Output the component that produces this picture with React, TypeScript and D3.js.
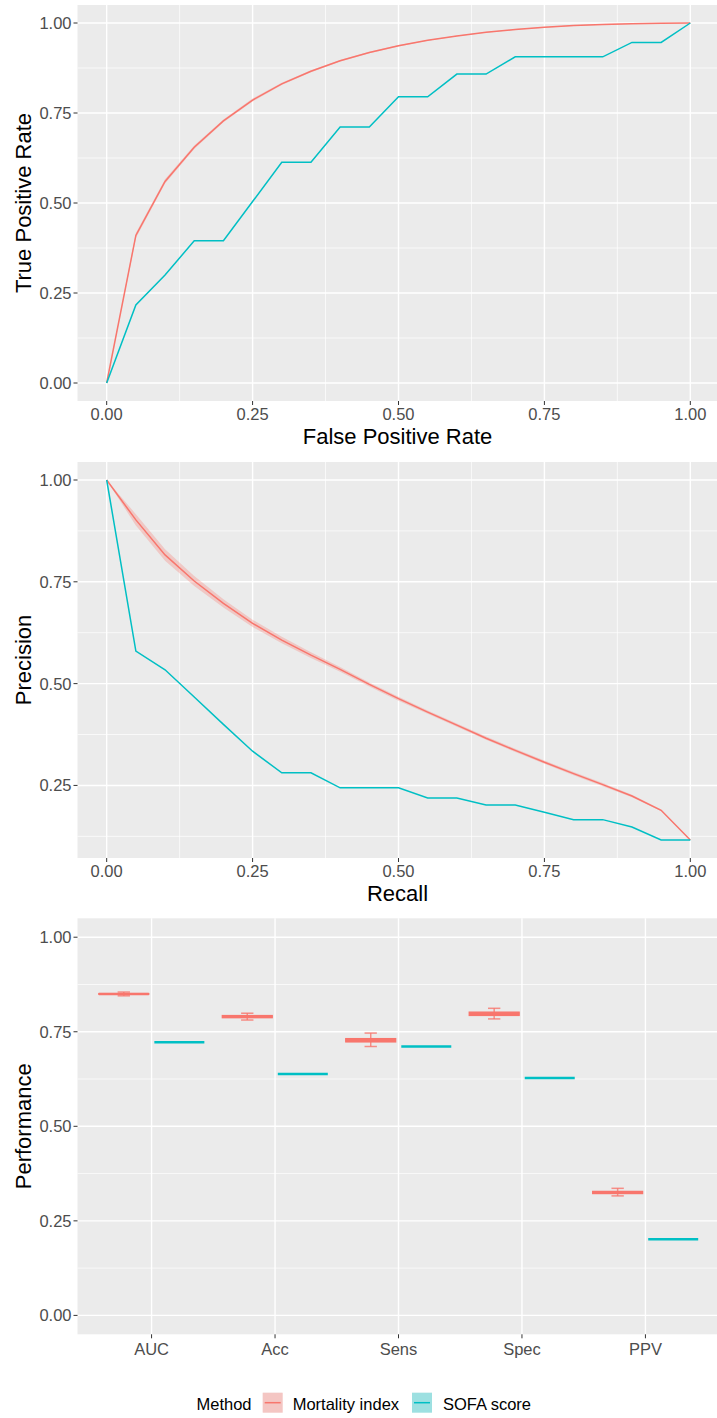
import React from 'react';
import * as d3 from 'd3';

// ---------- DATA ----------
const rocFpr = [0, 0.05, 0.1, 0.15, 0.2, 0.25, 0.3, 0.35, 0.4, 0.45, 0.5, 0.55, 0.6, 0.65, 0.7, 0.75, 0.8, 0.85, 0.9, 0.95, 1];
const rocMortality = [0, 0.41, 0.56, 0.655, 0.728, 0.786, 0.831, 0.866, 0.895, 0.918, 0.937, 0.952, 0.964, 0.974, 0.982, 0.988, 0.993, 0.996, 0.998, 0.999, 1];
const rocMortalityLow = [0, 0.403, 0.554, 0.650, 0.724, 0.782, 0.828, 0.863, 0.893, 0.916, 0.935, 0.951, 0.963, 0.973, 0.981, 0.987, 0.992, 0.995, 0.997, 0.999, 1];
const rocMortalityHigh = [0, 0.417, 0.566, 0.660, 0.732, 0.790, 0.834, 0.869, 0.897, 0.920, 0.939, 0.953, 0.965, 0.975, 0.983, 0.989, 0.994, 0.997, 0.999, 1, 1];
const rocSofa = [0, 0.217, 0.3, 0.395, 0.395, 0.504, 0.613, 0.613, 0.711, 0.711, 0.795, 0.795, 0.858, 0.858, 0.906, 0.906, 0.906, 0.906, 0.946, 0.946, 1];

const prRecall = [0, 0.05, 0.1, 0.15, 0.2, 0.25, 0.3, 0.35, 0.4, 0.45, 0.5, 0.55, 0.6, 0.65, 0.7, 0.75, 0.8, 0.85, 0.9, 0.95, 1];
const prMortality = [1, 0.902, 0.816, 0.752, 0.697, 0.648, 0.607, 0.570, 0.535, 0.498, 0.463, 0.430, 0.398, 0.366, 0.336, 0.307, 0.279, 0.252, 0.224, 0.189, 0.116];
const prMortalityLow = [1, 0.888, 0.802, 0.740, 0.687, 0.639, 0.599, 0.563, 0.529, 0.493, 0.458, 0.426, 0.394, 0.362, 0.332, 0.303, 0.275, 0.248, 0.221, 0.187, 0.116];
const prMortalityHigh = [1, 0.916, 0.830, 0.764, 0.707, 0.657, 0.615, 0.577, 0.541, 0.503, 0.468, 0.434, 0.402, 0.370, 0.340, 0.311, 0.283, 0.256, 0.227, 0.191, 0.116];
const prSofa = [1, 0.58, 0.534, 0.467, 0.4, 0.334, 0.281, 0.281, 0.244, 0.244, 0.244, 0.219, 0.219, 0.202, 0.202, 0.184, 0.166, 0.166, 0.148, 0.116, 0.116];

const metrics = ['AUC', 'Acc', 'Sens', 'Spec', 'PPV'];
const mortalityLow = [0.845, 0.781, 0.711, 0.784, 0.316];
const mortalityQ1 = [0.849, 0.787, 0.723, 0.793, 0.322];
const mortalityMedian = [0.850, 0.790, 0.728, 0.798, 0.325];
const mortalityQ3 = [0.851, 0.793, 0.732, 0.802, 0.328];
const mortalityHigh = [0.855, 0.799, 0.7465, 0.812, 0.336];
const sofaValues = [0.7225, 0.638, 0.711, 0.6275, 0.2016];

const unitTicks = [0, 0.25, 0.5, 0.75, 1];
const unitTickLabels = ['0.00', '0.25', '0.50', '0.75', '1.00'];
const minorTicks = [0.125, 0.375, 0.625, 0.875];

const methods = ['Mortality index', 'SOFA score'];
const colors = ['#F8766D', '#00BFC4'];

// ---------- LAYOUT ----------
const W = 717;
const H = 1418;
const PL = 77.5;
const PR = 719.5;
const P1 = { top: 5, bottom: 401 };
const P2 = { top: 462, bottom: 858 };
const P3 = { top: 918.3, bottom: 1334.3 };
const FONT = "'Liberation Sans', Arial, Helvetica, sans-serif";
const TICK_FS = 16.5;
const TITLE_FS = 22;

const xUnit = d3.scaleLinear().domain([-0.05, 1.05]).range([PL, PR]);
const y1 = d3.scaleLinear().domain([-0.05, 1.05]).range([P1.bottom, P1.top]);
const prMin = d3.min(prMortalityLow.concat(prSofa)) as number;
const prSpan = 1 - prMin;
const y2 = d3.scaleLinear().domain([prMin - 0.05 * prSpan, 1 + 0.05 * prSpan]).range([P2.bottom, P2.top]);
const y3 = d3.scaleLinear().domain([-0.05, 1.05]).range([P3.bottom, P3.top]);
const x3 = d3.scalePoint<string>().domain(metrics).range([PL, PR]).padding(0.6);
const step3 = x3.step();

function Panel({ top, bottom, yScale, xGrid, xMinor }: any) {
  const yMaj = unitTicks.filter((v) => yScale(v) >= top - 0.5 && yScale(v) <= bottom + 0.5);
  const yMin = minorTicks.filter((v) => yScale(v) >= top && yScale(v) <= bottom);
  return (
    <g>
      <rect x={PL} y={top} width={PR - PL} height={bottom - top} fill="#EBEBEB" />
      {yMin.map((v) => (
        <line key={'ym' + v} x1={PL} x2={PR} y1={yScale(v)} y2={yScale(v)} stroke="#fff" strokeWidth={0.7} />
      ))}
      {xMinor.map((v: number) => (
        <line key={'xm' + v} x1={xUnit(v)} x2={xUnit(v)} y1={top} y2={bottom} stroke="#fff" strokeWidth={0.7} />
      ))}
      {yMaj.map((v) => (
        <line key={'yM' + v} x1={PL} x2={PR} y1={yScale(v)} y2={yScale(v)} stroke="#fff" strokeWidth={1.4} />
      ))}
      {xGrid.map((px: number, i: number) => (
        <line key={'xM' + i} x1={px} x2={px} y1={top} y2={bottom} stroke="#fff" strokeWidth={1.4} />
      ))}
      {yMaj.map((v) => (
        <g key={'yt' + v}>
          <line x1={PL - 4} x2={PL} y1={yScale(v)} y2={yScale(v)} stroke="#333" strokeWidth={1} />
          <text x={PL - 6} y={yScale(v)} dy="0.36em" textAnchor="end" fontSize={TICK_FS} fill="#4D4D4D" fontFamily={FONT}>
            {unitTickLabels[unitTicks.indexOf(v)]}
          </text>
        </g>
      ))}
    </g>
  );
}

function XAxisUnit({ bottom, title }: any) {
  return (
    <g>
      {unitTicks.map((v, i) => (
        <g key={v}>
          <line x1={xUnit(v)} x2={xUnit(v)} y1={bottom} y2={bottom + 4} stroke="#333" strokeWidth={1} />
          <text x={xUnit(v)} y={bottom + 19} textAnchor="middle" fontSize={TICK_FS} fill="#4D4D4D" fontFamily={FONT}>
            {unitTickLabels[i]}
          </text>
        </g>
      ))}
      <text x={(PL + PR) / 2 - 1} y={bottom + 43} textAnchor="middle" fontSize={TITLE_FS} fill="#000" fontFamily={FONT}>
        {title}
      </text>
    </g>
  );
}

function YTitle({ top, bottom, title }: any) {
  const cy = (top + bottom) / 2;
  return (
    <text transform={`translate(31,${cy}) rotate(-90)`} textAnchor="middle" fontSize={TITLE_FS} fill="#000" fontFamily={FONT}>
      {title}
    </text>
  );
}

export default function App() {
  const rocLine = (ys: number[]) =>
    d3.line<number>().x((_, i) => xUnit(rocFpr[i])).y((v) => y1(v))(ys) as string;
  const rocBand = d3
    .area<number>()
    .x((_, i) => xUnit(rocFpr[i]))
    .y0((_, i) => y1(rocMortalityLow[i]))
    .y1((_, i) => y1(rocMortalityHigh[i]))(rocFpr) as string;
  const prLine = (ys: number[]) =>
    d3.line<number>().x((_, i) => xUnit(prRecall[i])).y((v) => y2(v))(ys) as string;
  const prBand = d3
    .area<number>()
    .x((_, i) => xUnit(prRecall[i]))
    .y0((_, i) => y2(prMortalityLow[i]))
    .y1((_, i) => y2(prMortalityHigh[i]))(prRecall) as string;

  const xGridUnit = unitTicks.map((v) => xUnit(v));
  const xGrid3 = metrics.map((m) => x3(m) as number);
  const dodge = 0.225 * step3;
  const boxW = 0.405 * step3;
  const capW = 0.1 * step3;

  return (
    <div style={{ position: 'absolute', left: 0, top: 0, width: W, height: H, background: '#fff' }}>
      <svg width={W} height={H} viewBox={`0 0 ${W} ${H}`} style={{ display: 'block' }}>
        <rect x={0} y={0} width={W} height={H} fill="#fff" />
        {/* Panel 1: ROC */}
        <Panel top={P1.top} bottom={P1.bottom} yScale={y1} xGrid={xGridUnit} xMinor={minorTicks} />
        <path d={rocBand} fill={colors[0]} fillOpacity={0.3} />
        <path d={rocLine(rocMortality)} fill="none" stroke={colors[0]} strokeWidth={1.5} />
        <path d={rocLine(rocSofa)} fill="none" stroke={colors[1]} strokeWidth={1.5} />
        <XAxisUnit bottom={P1.bottom} title="False Positive Rate" />
        <YTitle top={P1.top} bottom={P1.bottom} title="True Positive Rate" />

        {/* Panel 2: PR */}
        <Panel top={P2.top} bottom={P2.bottom} yScale={y2} xGrid={xGridUnit} xMinor={minorTicks} />
        <path d={prBand} fill={colors[0]} fillOpacity={0.3} />
        <path d={prLine(prMortality)} fill="none" stroke={colors[0]} strokeWidth={1.5} />
        <path d={prLine(prSofa)} fill="none" stroke={colors[1]} strokeWidth={1.5} />
        <XAxisUnit bottom={P2.bottom} title="Recall" />
        <YTitle top={P2.top} bottom={P2.bottom} title="Precision" />

        {/* Panel 3: performance */}
        <Panel top={P3.top} bottom={P3.bottom} yScale={y3} xGrid={xGrid3} xMinor={[]} />
        {metrics.map((m, i) => {
          const cx = (x3(m) as number) - dodge;
          const sx = (x3(m) as number) + dodge;
          return (
            <g key={m}>
              <g stroke={colors[0]} strokeOpacity={0.8} strokeWidth={1.5}>
                <line x1={cx} x2={cx} y1={y3(mortalityLow[i])} y2={y3(mortalityHigh[i])} />
                <line x1={cx - capW / 2} x2={cx + capW / 2} y1={y3(mortalityLow[i])} y2={y3(mortalityLow[i])} />
                <line x1={cx - capW / 2} x2={cx + capW / 2} y1={y3(mortalityHigh[i])} y2={y3(mortalityHigh[i])} />
              </g>
              <rect
                x={cx - boxW / 2}
                y={y3(mortalityQ3[i])}
                width={boxW}
                height={y3(mortalityQ1[i]) - y3(mortalityQ3[i])}
                fill={colors[0]}
                stroke={colors[0]}
                strokeWidth={1.2}
              />
              <line x1={cx - boxW / 2} x2={cx + boxW / 2} y1={y3(mortalityMedian[i])} y2={y3(mortalityMedian[i])} stroke={colors[0]} strokeWidth={2.4} />
              <line x1={sx - boxW / 2} x2={sx + boxW / 2} y1={y3(sofaValues[i])} y2={y3(sofaValues[i])} stroke={colors[1]} strokeWidth={2.5} />
            </g>
          );
        })}
        {metrics.map((m) => (
          <g key={'xt' + m}>
            <line x1={x3(m) as number} x2={x3(m) as number} y1={P3.bottom} y2={P3.bottom + 4} stroke="#333" strokeWidth={1} />
            <text x={x3(m) as number} y={P3.bottom + 20.5} textAnchor="middle" fontSize={TICK_FS} fill="#4D4D4D" fontFamily={FONT}>
              {m}
            </text>
          </g>
        ))}
        <YTitle top={P3.top} bottom={P3.bottom} title="Performance" />

        {/* Legend */}
        <g fontFamily={FONT} fontSize={TICK_FS} fill="#000">
          <text x={196.5} y={1409.5}>Method</text>
          {methods.map((name, i) => {
            const kx = i === 0 ? 262.7 : 412;
            const tx = i === 0 ? 292.7 : 443;
            return (
              <g key={name}>
                <rect x={kx} y={1392.7} width={20} height={20} fill="#F2F2F2" />
                <rect x={kx} y={1392.7} width={20} height={20} fill={colors[i]} fillOpacity={0.35} />
                <line x1={kx + 2} x2={kx + 18} y1={1402.7} y2={1402.7} stroke={colors[i]} strokeWidth={1.5} />
                <text x={tx} y={1409.5}>{name}</text>
              </g>
            );
          })}
        </g>
      </svg>
    </div>
  );
}
